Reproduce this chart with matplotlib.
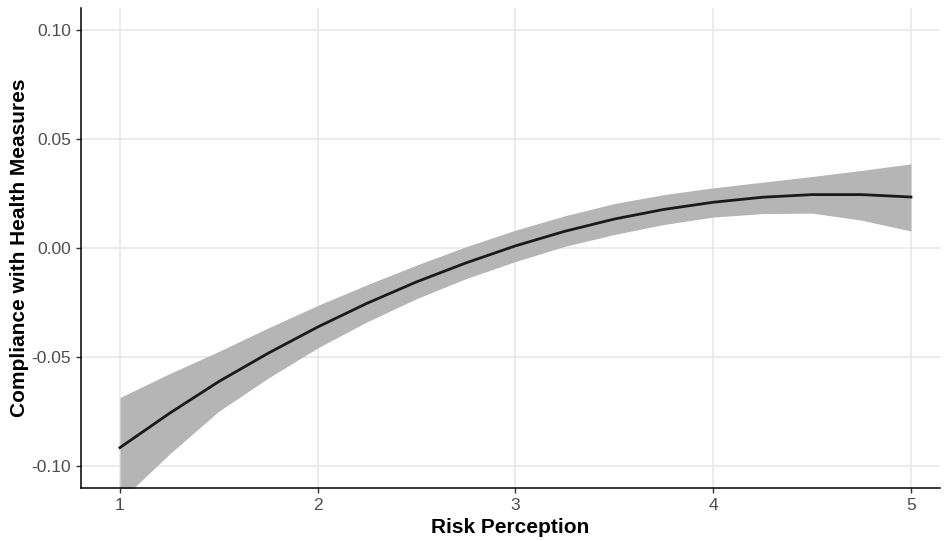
import matplotlib
matplotlib.use("Agg")
import matplotlib.pyplot as plt
import numpy as np

plt.rcParams['font.family'] = ['Liberation Sans', 'DejaVu Sans']

# fitted curve and confidence band
risk = [1.0, 1.25, 1.5, 1.75, 2.0, 2.25, 2.5, 2.75, 3.0,
        3.25, 3.5, 3.75, 4.0, 4.25, 4.5, 4.75, 5.0]
fit = [-0.0915, -0.0758, -0.0612, -0.0482, -0.0362, -0.0253, -0.0155, -0.0068, 0.0010,
       0.0077, 0.0133, 0.0177, 0.0210, 0.0233, 0.0245, 0.0245, 0.0234]
lower = [-0.1160, -0.0945, -0.0748, -0.0596, -0.0458, -0.0338, -0.0232, -0.0140, -0.0062,
         0.0008, 0.0062, 0.0108, 0.0142, 0.0158, 0.0160, 0.0128, 0.0078]
upper = [-0.0685, -0.0576, -0.0474, -0.0366, -0.0263, -0.0168, -0.0078, 0.0006, 0.0082,
         0.0148, 0.0204, 0.0245, 0.0276, 0.0302, 0.0328, 0.0356, 0.0386]

fig = plt.figure(figsize=(9.44, 5.41), dpi=100)
ax = fig.add_axes([0.0858, 0.098, 0.91, 0.887])

ax.fill_between(risk, lower, upper, color='#b5b5b5', lw=0, zorder=2)
ax.plot(risk, fit, color='#1a1a1a', lw=2.0, zorder=3)

ax.set_xlim(0.803, 5.147)
ax.set_ylim(-0.110, 0.110)
ax.set_xticks([1, 2, 3, 4, 5])
ax.set_yticks([-0.10, -0.05, 0.00, 0.05, 0.10])
ax.set_yticklabels(['-0.10', '-0.05', '0.00', '0.05', '0.10'])

ax.grid(True, color='#e6e6e6', lw=1.1, zorder=0)
ax.set_axisbelow(True)
for s in ['top', 'right']:
    ax.spines[s].set_visible(False)
for s in ['left', 'bottom']:
    ax.spines[s].set_linewidth(1.1)
    ax.spines[s].set_color('black')
ax.tick_params(labelsize=12.5, labelcolor='#4d4d4d', color='#333333', length=3.5, width=1)

ax.set_xlabel('Risk Perception', fontsize=15, fontweight='bold', labelpad=4)
ax.set_ylabel('Compliance with Health Measures', fontsize=15, fontweight='bold', labelpad=2)

fig.savefig('out.png', dpi=100)
